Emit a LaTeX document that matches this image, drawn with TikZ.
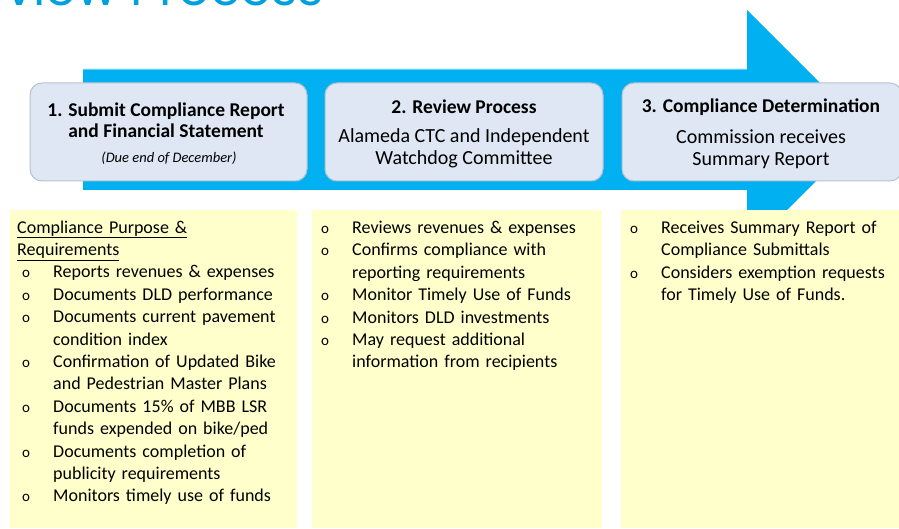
\documentclass[tikz,border=0pt]{standalone}
\usepackage{fontspec}
\setmainfont{Carlito}
\newfontfamily\titlefont{Poppins}
\definecolor{arrowblue}{RGB}{0,176,240}
\definecolor{arrowtop}{RGB}{90,210,250}
\definecolor{boxfill}{RGB}{222,231,243}
\definecolor{boxline}{RGB}{185,195,208}
\definecolor{noteyellow}{RGB}{255,255,204}
\definecolor{titleblue}{RGB}{0,160,222}
\newcommand\bitem{\hangindent=36pt\hangafter=1\noindent\makebox[36pt][l]{\hspace{5pt}{\fontsize{15}{22.4}\selectfont o}}}
\newcommand\nl{\hfil\break}
\tikzset{
  stepbox/.style={draw=boxline, line width=1pt, fill=boxfill, rounded corners=12pt, minimum width=278pt, minimum height=98pt, inner sep=0pt},
  notebox/.style={fill=noteyellow, inner sep=0pt, anchor=north west},
  boldhead/.style={anchor=base, inner sep=0pt, font=\fontsize{19.5}{21}\selectfont\bfseries},
  plainhead/.style={anchor=base, inner sep=0pt, font=\fontsize{20}{22}\selectfont},
  listtext/.style={anchor=north west, text width=400pt, inner sep=0pt, font=\fontsize{18}{22.4}\selectfont\raggedright}
}
\begin{document}
\begin{tikzpicture}[x=1pt,y=-1pt]
\useasboundingbox (0,0) rectangle (899,529);
\clip (0,0) rectangle (899,529);
% title (cut off at the top)
\node[anchor=base west, inner sep=0pt, text=titleblue, font=\titlefont\fontsize{50}{50}\selectfont] (title) at (5,6) {view Process};
% big arrow
\fill[arrowblue] (83,69) -- (747,69) -- (747,10) -- (867,130) -- (747,250) -- (747,190) -- (83,190) -- cycle;
\draw[arrowtop, line width=1.2pt] (83,69.6) -- (747,69.6);
% step boxes
\node[stepbox, minimum width=277pt] (s1) at (168.5,132) {};
\node[stepbox] (s2) at (464,132) {};
\node[stepbox, minimum width=280pt] (s3) at (762,132) {};
\node[boldhead] (s1a) at (166,117) {1. Submit Compliance Report};
\node[boldhead] (s1b) at (166,137.5) {and Financial Statement};
\node[anchor=base, inner sep=0pt, font=\fontsize{14.5}{16}\selectfont\itshape] (s1c) at (169,163) {(Due end of December)};
\node[boldhead] (s2a) at (464,114) {2. Review Process};
\node[plainhead] (s2b) at (464,143) {Alameda CTC and Independent};
\node[plainhead] (s2c) at (464,165) {Watchdog Committee};
\node[boldhead] (s3a) at (761,112.5) {3. Compliance Determination};
\node[plainhead] (s3b) at (761,143.5) {Commission receives};
\node[plainhead] (s3c) at (761,165.5) {Summary Report};
% yellow notes
\node[notebox, minimum width=287pt, minimum height=318pt] (n1) at (10,210) {};
\node[notebox, minimum width=290pt, minimum height=318pt] (n2) at (312,210) {};
\node[notebox, minimum width=280pt, minimum height=318pt] (n3) at (621,210) {};
\node[listtext] (n1t) at (17,220.5) {\noindent\underline{Compliance Purpose \&}\par\noindent\underline{Requirements}\par
\bitem Reports revenues \& expenses\par
\bitem Documents DLD performance\par
\bitem Documents current pavement\nl condition index\par
\bitem Confirmation of Updated Bike\nl and Pedestrian Master Plans\par
\bitem Documents 15\% of MBB LSR\nl funds expended on bike/ped\par
\bitem Documents completion of\nl publicity requirements\par
\bitem Monitors timely use of funds\par};
\node[listtext] (n2t) at (316,221) {\bitem Reviews revenues \& expenses\par
\bitem Confirms compliance with\nl reporting requirements\par
\bitem Monitor Timely Use of Funds\par
\bitem Monitors DLD investments\par
\bitem May request additional\nl information from recipients\par};
\node[listtext] (n3t) at (625,221) {\bitem Receives Summary Report of\nl Compliance Submittals\par
\bitem Considers exemption requests\nl for Timely Use of Funds.\par};
\end{tikzpicture}
\end{document}
